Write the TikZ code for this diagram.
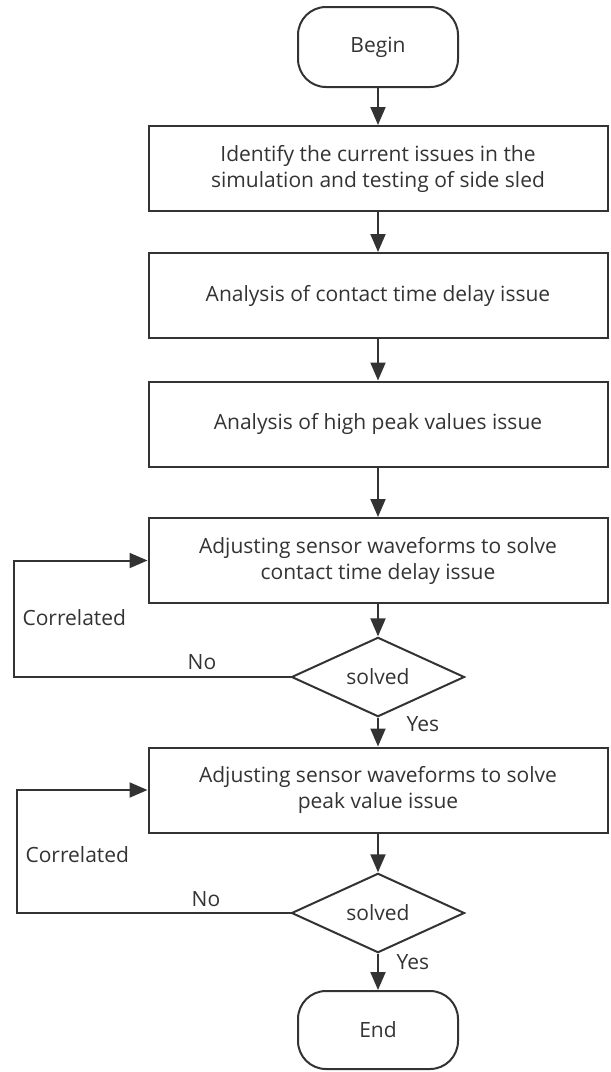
\documentclass[tikz,border=0pt]{standalone}
\usepackage{fontspec}
\setmainfont{Open Sans}
\usetikzlibrary{positioning,shapes,arrows.meta,calc}
\definecolor{inkgray}{HTML}{333333}

\begin{document}
\begin{tikzpicture}[x=1pt, y=-1pt,
    every node/.style={text=inkgray, font=\fontsize{21}{26}\selectfont},
    box/.style={draw=inkgray, line width=2pt, minimum width=459pt, minimum height=85pt, align=center, inner sep=0pt},
    term/.style={draw=inkgray, line width=2pt, rounded corners=28pt, minimum width=160pt, minimum height=80pt, inner sep=0pt},
    test/.style={diamond, draw=inkgray, line width=2pt, minimum width=173pt, minimum height=70pt, inner sep=0pt},
    flow/.style={draw=inkgray, line width=2pt, -{Triangle[width=15pt, length=18pt]}}]
      \useasboundingbox (0,0) rectangle (611,1072);

      % main column
      \node[term] (begin) at (378,47) {Begin};
      \node[box] (issues) at (378,168.5) {Identify the current issues in the\\simulation and testing of side sled};
      \node[box] (delay) at (378,295.5) {Analysis of contact time delay issue};
      \node[box] (peak) at (378,424) {Analysis of high peak values issue};
      \node[box] (fixdelay) at (378,560.5) {Adjusting sensor waveforms to solve\\contact time delay issue};
      \node[test] (solved1) at (378,677) {solved};
      \node[box] (fixpeak) at (378,790) {Adjusting sensor waveforms to solve\\peak value issue};
      \node[test] (solved2) at (378,913) {solved};
      \node[term, minimum height=78pt] (end) at (378,1030) {End};

      \draw[flow] (begin) -- (issues);
      \draw[flow] (issues) -- (delay);
      \draw[flow] (delay) -- (peak);
      \draw[flow] (peak) -- (fixdelay);
      \draw[flow] (fixdelay) -- (solved1);
      \draw[flow] (solved1) -- (fixpeak);
      \draw[flow] (fixpeak) -- (solved2);
      \draw[flow] (solved2) -- (end);

      % feedback loops
      \draw[flow] (solved1.west) -- ++(-277,0) |- (fixdelay.west);
      \draw[flow] (solved2.west) -- ++(-274,0) |- (fixpeak.west);

      \node[anchor=west] (corr1) at (19,618) {Correlated};
      \node (no1) at (202,662) {No};
      \node[anchor=west] (yes1) at (403,724) {Yes};
      \node[anchor=west] (corr2) at (22,855) {Correlated};
      \node (no2) at (206,899) {No};
      \node[anchor=west] (yes2) at (393,962) {Yes};
    \end{tikzpicture}
\end{document}
